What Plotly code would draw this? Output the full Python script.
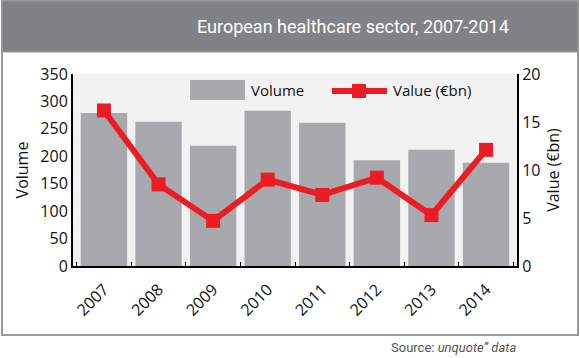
import plotly.graph_objects as go

years = ["2007", "2008", "2009", "2010", "2011", "2012", "2013", "2014"]
volume = [279, 263, 219, 283, 261, 193, 212, 188]
value_bn = [16.2, 8.5, 4.7, 9.0, 7.4, 9.2, 5.3, 12.1]

W, H = 580, 358
L, R, T, B = 73, 517, 74, 266  # plot area pixels


def px(x):
    return (x - L) / (R - L)


def py(y):
    return (B - y) / (B - T)


BAR_C = "#a7a9ac"
RED = "#ed1c24"

fig = go.Figure()
fig.add_trace(go.Bar(
    x=years, y=volume, name="Volume", marker=dict(color=BAR_C, line=dict(width=0)),
    yaxis="y", showlegend=False,
))
fig.add_trace(go.Scatter(
    x=years, y=value_bn, name="Value (€bn)", yaxis="y2", mode="lines+markers",
    line=dict(color=RED, width=6),
    marker=dict(symbol="square", size=14, color=RED),
    showlegend=False,
))

font_main = "Open Sans, Noto Sans, sans-serif"
cond = "Roboto, sans-serif"

fig.update_layout(
    width=W, height=H,
    margin=dict(l=L, r=W - R, t=T, b=H - B, autoexpand=False),
    paper_bgcolor="white",
    plot_bgcolor="#f2f2f2",
    bargap=0.15,
    xaxis=dict(
        type="category", showline=True, linecolor="black", linewidth=2,
        ticks="inside", tickson="boundaries", ticklen=4, tickcolor="black",
        tickangle=-45, tickfont=dict(family=font_main, size=16, color="#111"),
        ticklabelstandoff=6,
        showgrid=False, zeroline=False,
    ),
    yaxis=dict(
        range=[0, 350], dtick=50, showline=True, linecolor="black", linewidth=2,
        showgrid=False, zeroline=False, ticks="",
        tickfont=dict(family=font_main, size=16, color="#111"),
        title=dict(text="Volume", font=dict(family=font_main, size=16, color="#111"), standoff=8),
    ),
    yaxis2=dict(
        range=[0, 20], dtick=5, overlaying="y", side="right", showline=True,
        linecolor="black", linewidth=2, showgrid=False, zeroline=False, ticks="",
        tickfont=dict(family=font_main, size=16, color="#111"),
        title=dict(text="Value (€bn)", font=dict(family=font_main, size=16, color="#111"), standoff=8),
    ),
    shapes=[
        dict(type="rect", xref="paper", yref="paper", x0=px(2), x1=px(578), y0=py(335), y1=py(1),
             line=dict(color="#9a9a9a", width=2), fillcolor="rgba(0,0,0,0)", layer="below"),
        dict(type="rect", xref="paper", yref="paper", x0=px(2), x1=px(578), y0=py(52), y1=py(1),
             line=dict(color="#9a9a9a", width=1), fillcolor="#808285", layer="below"),
        # legend: Volume swatch
        dict(type="rect", xref="paper", yref="paper", x0=px(190), x1=px(245), y0=py(100), y1=py(80),
             line=dict(width=0), fillcolor=BAR_C, layer="above"),
        # legend: Value line swatch
        dict(type="line", xref="paper", yref="paper", x0=px(332), x1=px(387), y0=py(91), y1=py(91),
             line=dict(color=RED, width=6), layer="above"),
        dict(type="rect", xref="paper", yref="paper", x0=px(352), x1=px(366), y0=py(98), y1=py(84),
             line=dict(width=0), fillcolor=RED, layer="above"),
    ],
    annotations=[
        dict(text="European healthcare sector, 2007-2014", xref="paper", yref="paper",
             x=px(511), y=py(27), xanchor="right", yanchor="middle", showarrow=False,
             font=dict(family=cond, size=18, color="white")),
        dict(text="Source: <i>unquote” data</i>", xref="paper", yref="paper",
             x=px(518), y=py(347), xanchor="right", yanchor="middle", showarrow=False,
             font=dict(family=cond, size=13, color="#555")),
        dict(text="Volume", xref="paper", yref="paper", x=px(249), y=py(90),
             xanchor="left", yanchor="middle", showarrow=False,
             font=dict(family=font_main, size=15, color="#111")),
        dict(text="Value (€bn)", xref="paper", yref="paper", x=px(391), y=py(90),
             xanchor="left", yanchor="middle", showarrow=False,
             font=dict(family=font_main, size=15, color="#111")),
    ],
)

fig.write_html("out.html", config={"displayModeBar": False},
               post_script="document.body.style.margin='0';")
